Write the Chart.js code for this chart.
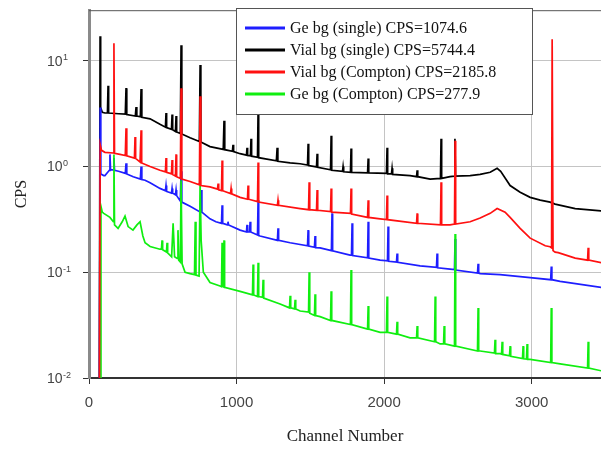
<!DOCTYPE html>
<html>
<head>
<meta charset="utf-8">
<script src="https://cdn.jsdelivr.net/npm/chart.js@4.4.1/dist/chart.umd.min.js"></script>
<style>
    body { margin: 0; background: #fff; }
    #wrap { width: 601px; height: 450px; }
</style>
</head>
<body>
<div id="wrap"><canvas id="spectrumChart" width="601" height="450"></canvas></div>
<script>
// Spectrum data, [channel, CPS] pairs
const geSingle = [[70,0.005],[76,3.6],[80,0.85],[100,0.82],[108,0.82],[138,0.92],[142,1.3],[146,0.93],[165,0.93],[169,1.2],[173,0.92],[200,0.9],[246,0.86],[251,1.07],[256,0.85],[300,0.8],[348,0.76],[353,1.0],[358,0.75],[380,0.74],[414,0.7],[481,0.62],[518,0.59],[522,0.66],[526,0.58],[559,0.56],[563,0.62],[567,0.56],[586,0.54],[590,0.6],[594,0.53],[619,0.47],[624,0.9],[629,0.46],[685,0.42],[755,0.37],[760,0.6],[765,0.37],[820,0.32],[860,0.3],[898,0.29],[902,0.43],[906,0.29],[938,0.28],[942,0.3],[946,0.28],[1024,0.25],[1067,0.24],[1071,0.28],[1075,0.24],[1088,0.24],[1092,0.3],[1096,0.24],[1142,0.225],[1146,0.48],[1150,0.222],[1159,0.22],[1277,0.2],[1281,0.26],[1285,0.2],[1363,0.19],[1481,0.178],[1485,0.25],[1489,0.177],[1528,0.172],[1532,0.22],[1536,0.171],[1566,0.17],[1643,0.16],[1647,0.36],[1651,0.159],[1769,0.145],[1779,0.145],[1783,0.29],[1787,0.144],[1888,0.137],[1892,0.3],[1896,0.136],[1973,0.13],[2023,0.128],[2027,0.27],[2031,0.127],[2084,0.125],[2088,0.15],[2092,0.124],[2244,0.115],[2355,0.111],[2359,0.15],[2363,0.11],[2447,0.107],[2477,0.106],[2481,0.206],[2485,0.105],[2633,0.098],[2637,0.12],[2641,0.098],[2651,0.097],[2786,0.095],[2990,0.089],[3129,0.085],[3133,0.113],[3137,0.085],[3193,0.082],[3471,0.072]];

const vialSingle = [[70,0.005],[75,17],[79,3.6],[90,3.25],[108,3.2],[125,3.2],[129,5.8],[133,3.2],[200,3.15],[246,3.12],[251,5.5],[256,3.1],[314,3.0],[319,3.65],[324,3.0],[348,2.95],[353,5.4],[358,2.92],[414,2.82],[481,2.5],[518,2.35],[522,3.2],[526,2.33],[559,2.24],[563,3.1],[567,2.22],[586,2.14],[590,3.0],[594,2.12],[619,2.05],[624,14],[629,2.03],[685,1.87],[748,1.72],[753,9.1],[758,1.7],[820,1.54],[910,1.45],[915,2.7],[920,1.44],[972,1.39],[976,1.6],[980,1.38],[1024,1.32],[1067,1.28],[1071,1.5],[1075,1.27],[1094,1.26],[1098,1.83],[1102,1.25],[1142,1.22],[1146,3.4],[1150,1.21],[1270,1.13],[1275,1.5],[1280,1.12],[1363,1.08],[1431,1.06],[1481,1.03],[1485,1.64],[1489,1.02],[1542,0.99],[1546,1.32],[1550,0.98],[1637,0.93],[1641,1.95],[1645,0.92],[1718,0.9],[1722,1.0],[1726,0.89],[1772,0.88],[1776,1.48],[1780,0.88],[1888,0.87],[1892,1.19],[1896,0.87],[2016,0.86],[2020,1.5],[2024,0.85],[2050,0.85],[2054,0.96],[2058,0.84],[2176,0.82],[2220,0.8],[2224,0.92],[2228,0.8],[2312,0.76],[2382,0.77],[2386,1.83],[2390,0.77],[2447,0.8],[2476,0.81],[2480,1.83],[2484,0.81],[2583,0.82],[2651,0.84],[2719,0.88],[2766,0.96],[2790,0.9],[2854,0.66],[2922,0.57],[2990,0.51],[3058,0.48],[3125,0.46],[3159,0.44],[3295,0.4],[3471,0.38]];

const vialCompton = [[70,0.005],[76,1.6],[85,1.42],[108,1.36],[165,1.34],[169,14.6],[173,1.33],[210,1.3],[246,1.27],[251,2.3],[256,1.26],[308,1.2],[312,1.9],[316,1.19],[346,1.1],[350,1.1],[353,2.2],[357,1.08],[414,1.0],[481,0.92],[518,0.89],[522,1.2],[526,0.88],[559,0.85],[563,1.15],[567,0.84],[586,0.81],[590,1.3],[594,0.8],[619,0.77],[624,5.5],[629,0.76],[685,0.72],[748,0.67],[753,4.6],[758,0.66],[820,0.64],[854,0.62],[871,0.61],[875,0.69],[879,0.6],[898,0.59],[902,1.14],[906,0.59],[959,0.555],[963,0.62],[967,0.55],[1024,0.51],[1074,0.49],[1078,0.66],[1082,0.49],[1142,0.465],[1146,1.09],[1150,0.46],[1277,0.43],[1281,0.48],[1285,0.43],[1431,0.4],[1488,0.39],[1492,0.71],[1496,0.39],[1542,0.385],[1546,0.6],[1550,0.385],[1637,0.375],[1641,0.62],[1645,0.37],[1772,0.36],[1776,0.62],[1780,0.355],[1888,0.33],[1892,0.48],[1896,0.33],[1973,0.32],[2016,0.315],[2020,0.53],[2024,0.314],[2220,0.29],[2224,0.36],[2228,0.29],[2382,0.28],[2386,0.71],[2390,0.28],[2447,0.28],[2477,0.285],[2481,1.75],[2485,0.285],[2583,0.3],[2651,0.325],[2719,0.36],[2766,0.4],[2820,0.37],[2854,0.33],[2922,0.26],[2990,0.21],[3092,0.178],[3125,0.174],[3135,0.17],[3139,15.9],[3145,0.16],[3159,0.155],[3180,0.153],[3295,0.136],[3379,0.13],[3383,0.17],[3387,0.13],[3471,0.123]];

const geCompton = [[79,0.005],[81,0.42],[90,0.37],[100,0.36],[142,0.33],[165,0.3],[169,1.3],[173,0.28],[197,0.26],[225,0.3],[244,0.34],[265,0.27],[298,0.25],[325,0.28],[346,0.3],[365,0.22],[380,0.19],[414,0.175],[481,0.165],[491,0.165],[495,0.2],[499,0.163],[525,0.155],[529,0.19],[533,0.152],[560,0.14],[570,0.29],[580,0.14],[598,0.135],[603,0.25],[608,0.13],[619,0.125],[624,0.74],[631,0.12],[651,0.1],[685,0.097],[715,0.095],[720,0.3],[725,0.094],[746,0.092],[753,0.71],[760,0.2],[775,0.1],[820,0.08],[888,0.074],[898,0.073],[902,0.19],[906,0.074],[911,0.073],[915,0.2],[919,0.072],[1024,0.066],[1108,0.061],[1112,0.118],[1116,0.061],[1142,0.059],[1146,0.123],[1150,0.059],[1176,0.058],[1180,0.085],[1184,0.057],[1295,0.05],[1359,0.046],[1363,0.06],[1367,0.046],[1393,0.045],[1397,0.055],[1401,0.045],[1431,0.043],[1488,0.042],[1492,0.1],[1496,0.041],[1528,0.039],[1532,0.062],[1536,0.039],[1566,0.038],[1637,0.035],[1641,0.066],[1645,0.035],[1772,0.032],[1776,0.105],[1780,0.032],[1888,0.029],[1892,0.048],[1896,0.029],[1973,0.027],[2016,0.027],[2020,0.059],[2024,0.027],[2084,0.026],[2088,0.034],[2092,0.026],[2176,0.024],[2220,0.024],[2224,0.031],[2228,0.024],[2342,0.022],[2346,0.059],[2350,0.022],[2380,0.021],[2403,0.021],[2407,0.031],[2411,0.021],[2477,0.02],[2481,0.23],[2485,0.02],[2633,0.018],[2637,0.046],[2641,0.018],[2651,0.018],[2748,0.0172],[2752,0.023],[2756,0.017],[2786,0.017],[2796,0.0168],[2800,0.022],[2804,0.0167],[2850,0.0162],[2854,0.02],[2858,0.016],[2938,0.0153],[2942,0.02],[2946,0.0152],[2965,0.0151],[2969,0.021],[2973,0.015],[2990,0.015],[3129,0.014],[3133,0.046],[3137,0.014],[3193,0.0136],[3379,0.0124],[3383,0.022],[3387,0.0124],[3471,0.0117]];

const seriesLabels = [
    'Ge bg (single) CPS=1074.6',
    'Vial bg (single) CPS=5744.4',
    'Vial bg (Compton) CPS=2185.8',
    'Ge bg (Compton) CPS=277.9'
];
const seriesColors = ['#1e1eff', '#000000', '#ff1010', '#10ee10'];
const xTickValues = [0, 1000, 2000, 3000];
const yTickValues = [0.01, 0.1, 1, 10];
const yTickExps = ['-2', '-1', '0', '1'];

const toPoints = arr => arr.map(p => ({ x: p[0], y: p[1] }));

function makeSet(i, arr, order) {
    return {
        label: seriesLabels[i],
        data: toPoints(arr),
        borderColor: seriesColors[i],
        borderWidth: 1.7,
        pointRadius: 0,
        showLine: true,
        tension: 0,
        order: order
    };
}

// Log tick labels with superscript exponents, plus legend box and top frame
const decorPlugin = {
    id: 'decor',
    afterDraw(chart) {
        const ctx = chart.ctx;
        const area = chart.chartArea;
        const yScale = chart.scales.y;
        ctx.save();

        ctx.strokeStyle = '#555';
        ctx.lineWidth = 1;
        ctx.beginPath();
        ctx.moveTo(area.left, area.top + 0.5);
        ctx.lineTo(area.right, area.top + 0.5);
        ctx.stroke();

        ctx.fillStyle = '#444';
        yTickValues.forEach((v, i) => {
            const y = yScale.getPixelForValue(v);
            ctx.font = '14px "Liberation Sans", Arial, sans-serif';
            ctx.textAlign = 'left';
            ctx.textBaseline = 'middle';
            ctx.fillText('10', 47, y + 1);
            const w = ctx.measureText('10').width;
            ctx.font = '9px "Liberation Sans", Arial, sans-serif';
            ctx.textBaseline = 'alphabetic';
            ctx.fillText(yTickExps[i], 47 + w + 0.5, y - 0.5);
        });

        // legend
        const lx = 236.5, ly = 8.5, lw = 296, lh = 106;
        ctx.fillStyle = '#fff';
        ctx.fillRect(lx, ly, lw, lh);
        ctx.strokeStyle = '#555';
        ctx.strokeRect(lx, ly, lw, lh);
        ctx.font = '16px "Liberation Serif", "Times New Roman", serif';
        ctx.textBaseline = 'middle';
        ctx.textAlign = 'left';
        seriesLabels.forEach((txt, i) => {
            const y = 28 + i * 22;
            ctx.strokeStyle = seriesColors[i];
            ctx.lineWidth = 3;
            ctx.beginPath();
            ctx.moveTo(245, y);
            ctx.lineTo(285, y);
            ctx.stroke();
            ctx.fillStyle = '#111';
            ctx.fillText(txt, 290, y + 1);
        });
        ctx.restore();
    }
};

const ctx = document.getElementById('spectrumChart').getContext('2d');

const spectrumChart = new Chart(ctx, {
    type: 'scatter',
    data: {
        datasets: [
            makeSet(0, geSingle, 2),
            makeSet(1, vialSingle, 3),
            makeSet(2, vialCompton, 0),
            makeSet(3, geCompton, 1)
        ]
    },
    options: {
        responsive: false,
        animation: false,
        devicePixelRatio: 1,
        layout: { padding: 0 },
        plugins: {
            legend: { display: false },
            tooltip: { enabled: false }
        },
        scales: {
            x: {
                type: 'linear',
                min: 0,
                max: 3470,
                afterFit: s => { s.height = 72; },
                afterBuildTicks: s => { s.ticks = xTickValues.map(v => ({ value: v })); },
                ticks: {
                    color: '#444',
                    padding: 10,
                    autoSkip: false,
                    callback: v => String(v),
                    font: { family: '"Liberation Sans", Arial, sans-serif', size: 15 }
                },
                grid: {
                    color: '#c4c4c4',
                    tickColor: '#333',
                    tickLength: 6
                },
                border: { color: '#333', width: 2 },
                title: {
                    display: true,
                    text: 'Channel Number',
                    color: '#222',
                    padding: { top: 4, bottom: 3 },
                    font: { family: '"Liberation Serif", "Times New Roman", serif', size: 17 }
                }
            },
            y: {
                type: 'logarithmic',
                min: 0.01,
                max: 30,
                afterFit: s => { s.width = 89; },
                afterBuildTicks: s => { s.ticks = yTickValues.map(v => ({ value: v })); },
                ticks: {
                    callback: () => '',
                    autoSkip: false
                },
                grid: {
                    color: '#c4c4c4',
                    tickColor: '#333',
                    tickLength: 6
                },
                border: { color: '#8a8a8a', width: 3 },
                title: {
                    display: true,
                    text: 'CPS',
                    color: '#222',
                    padding: { top: 12, bottom: 4 },
                    font: { family: '"Liberation Serif", "Times New Roman", serif', size: 16 }
                }
            }
        }
    },
    plugins: [decorPlugin]
});
</script>
</body>
</html>
